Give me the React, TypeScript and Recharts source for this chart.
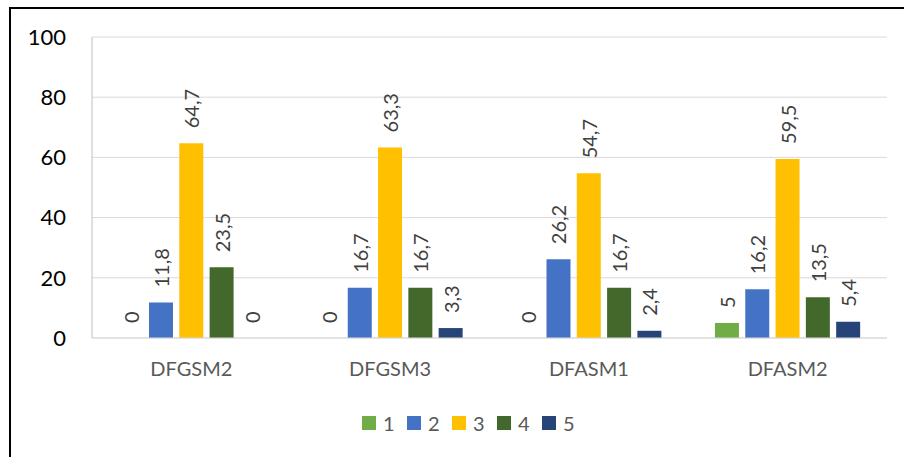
import React from 'react';
import {
    BarChart,
    Bar,
    XAxis,
    YAxis,
    CartesianGrid,
    Legend,
    LabelList,
} from 'recharts';

const categories = ['DFGSM2', 'DFGSM3', 'DFASM1', 'DFASM2'];
const series1 = [0, 0, 0, 5];
const series2 = [11.8, 16.7, 26.2, 16.2];
const series3 = [64.7, 63.3, 54.7, 59.5];
const series4 = [23.5, 16.7, 16.7, 13.5];
const series5 = [0, 3.3, 2.4, 5.4];
const seriesNames = ['1', '2', '3', '4', '5'];
const seriesColors = ['#70AD47', '#4472C4', '#FFC000', '#43682B', '#264478'];
const yTicks = [0, 20, 40, 60, 80, 100];

const allSeries = [series1, series2, series3, series4, series5];

const data = categories.map((name, i) => {
    const row: Record<string, string | number> = { name };
    allSeries.forEach((s, k) => {
        row['s' + (k + 1)] = s[i];
    });
    return row;
});

const FONT = 'Lato, "Open Sans", sans-serif';

const fmt = (v: number) => String(v).replace('.', ',');

// label is drawn 15px above the bar top, reading bottom to top
const RotatedLabel = (props: any) => {
    const { x, y, width, height, value } = props;
    const top = Math.min(Number(y), Number(y) + Number(height));
    const cx = Number(x) + Number(width) / 2;
    const cy = top - 15;
    return (
        <text
            x={cx}
            y={cy}
            transform={`rotate(-90, ${cx}, ${cy})`}
            textAnchor="start"
            dominantBaseline="central"
            fill="#404040"
            fontSize={20}
            fontFamily={FONT}
        >
            {fmt(Number(value))}
        </text>
    );
};

const LegendContent = () => (
    <div style={{ display: 'flex', alignItems: 'center', fontFamily: FONT, fontSize: 20, color: '#595959' }}>
        {seriesNames.map((n, i) => (
            <div key={n} style={{ display: 'flex', alignItems: 'center', width: 45 }}>
                <span style={{ width: 14, height: 14, background: seriesColors[i], display: 'inline-block', marginRight: 7 }} />
                <span style={{ lineHeight: '20px' }}>{n}</span>
            </div>
        ))}
    </div>
);

const App: React.FC = () => {
    return (
        <div style={{ position: 'absolute', left: 0, top: 0, width: 904, height: 457, background: '#fff', overflow: 'hidden' }}>
            <div
                style={{
                    position: 'absolute',
                    left: 9,
                    top: 7,
                    width: 904,
                    height: 460,
                    borderTop: '2px solid #000',
                    borderLeft: '2px solid #000',
                }}
            />
            <div style={{ position: 'absolute', left: 0, top: 0 }}>
                <BarChart
                    width={904}
                    height={457}
                    data={data}
                    margin={{ top: 37, right: 17, left: 32, bottom: 79 }}
                    barCategoryGap={26.7}
                    barGap={6.3}
                >
                    <CartesianGrid vertical={false} stroke="#D9D9D9" />
                    <XAxis
                        dataKey="name"
                        height={40}
                        tickSize={0}
                        tickMargin={24}
                        axisLine={{ stroke: '#D9D9D9' }}
                        tick={{ fill: '#595959', fontSize: 20, fontFamily: FONT }}
                    />
                    <YAxis
                        width={60}
                        domain={[0, 100]}
                        ticks={yTicks}
                        tickSize={0}
                        tickMargin={26}
                        axisLine={{ stroke: '#BFBFBF' }}
                        tick={{ fill: '#000', fontSize: 22, fontFamily: FONT }}
                    />
                    <Legend
                        verticalAlign="middle"
                        align="center"
                        content={<LegendContent />}
                        wrapperStyle={{ left: 362, top: 413, width: 'auto' }}
                    />
                    {seriesNames.map((n, i) => (
                        <Bar
                            key={n}
                            dataKey={'s' + (i + 1)}
                            name={n}
                            fill={seriesColors[i]}
                            minPointSize={0.01}
                            isAnimationActive={false}
                        >
                            <LabelList dataKey={'s' + (i + 1)} content={<RotatedLabel />} />
                        </Bar>
                    ))}
                </BarChart>
            </div>
        </div>
    );
};

export default App;
